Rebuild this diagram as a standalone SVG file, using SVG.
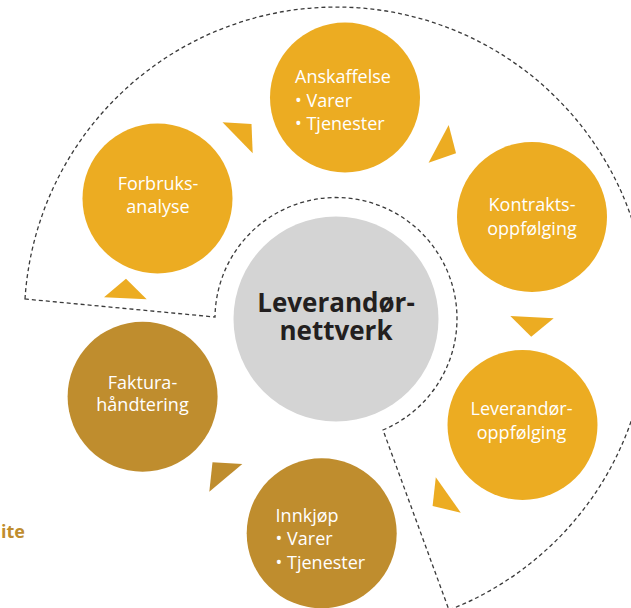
<svg xmlns="http://www.w3.org/2000/svg" width="631" height="608" viewBox="0 0 631 608">
<style>
.bright{fill:#ECAC22}
.dark{fill:#BF8D2E}
.hub{fill:#D4D4D4}
.lbl{font-family:"Open Sans","Liberation Sans",sans-serif;font-size:18px;fill:#FFFFFF}
.mid{text-anchor:middle}
.hubt{font-family:"Open Sans","Liberation Sans",sans-serif;font-size:26px;font-weight:bold;fill:#231F20;text-anchor:middle}
.dash{fill:none;stroke:#3A3A3A;stroke-width:1.3;stroke-dasharray:4 3}
</style>
<rect width="631" height="608" fill="#FFFFFF"/>
<g id="outline">
<path class="dash" d="M 25 299 A 312 312 0 1 1 449 610 L 383 430 A 121 121 0 1 0 215 317 Z"/>
</g>
<g id="connectors">
<polygon class="bright" points="222.5,122.3 251.5,124 252.7,153.3"/>
<polygon class="bright" points="448.7,125 456,153.3 428.6,162.7"/>
<polygon class="bright" points="510.3,316 553.7,318.3 531.2,336.7"/>
<polygon class="bright" points="435.8,477.3 460.8,512.7 432.6,506"/>
<polygon class="dark" points="212.5,462.3 242.3,464 209.3,491.7"/>
<polygon class="bright" points="126,278.7 146.7,299.3 104,297.3"/>
</g>
<g id="hub">
<circle class="hub" cx="336" cy="319" r="102.5"/>
<text class="hubt" x="336" y="312">Leverandør-</text>
<text class="hubt" x="336" y="340">nettverk</text>
</g>
<g id="anskaffelse">
<circle class="bright" cx="345" cy="97.5" r="75"/>
<text class="lbl" x="295" y="83">Anskaffelse</text>
<text class="lbl" x="295" y="106.5">• Varer</text>
<text class="lbl" x="295" y="130">• Tjenester</text>
</g>
<g id="kontrakt">
<circle class="bright" cx="532" cy="217" r="75"/>
<text class="lbl mid" x="532" y="211">Kontrakts-</text>
<text class="lbl mid" x="532" y="235">oppfølging</text>
</g>
<g id="leverandoroppfolging">
<circle class="bright" cx="522.5" cy="425" r="75"/>
<text class="lbl mid" x="521.5" y="415">Leverandør-</text>
<text class="lbl mid" x="521.5" y="438.5">oppfølging</text>
</g>
<g id="innkjop">
<circle class="dark" cx="321.7" cy="533.3" r="75"/>
<text class="lbl" x="275.6" y="522">Innkjøp</text>
<text class="lbl" x="275.6" y="545">• Varer</text>
<text class="lbl" x="275.6" y="568.5">• Tjenester</text>
</g>
<g id="faktura">
<circle class="dark" cx="142.6" cy="396.7" r="75"/>
<text class="lbl mid" x="142.5" y="388.5">Faktura-</text>
<text class="lbl mid" x="142.5" y="411">håndtering</text>
</g>
<g id="forbruk">
<circle class="bright" cx="157.5" cy="198.5" r="75"/>
<text class="lbl mid" x="158" y="189.5">Forbruks-</text>
<text class="lbl mid" x="158" y="212.5">analyse</text>
</g>
<text x="1" y="537.5" font-family="Open Sans, Liberation Sans, sans-serif" font-size="18" font-weight="bold" fill="#BF8D2E">ite</text>
</svg>
